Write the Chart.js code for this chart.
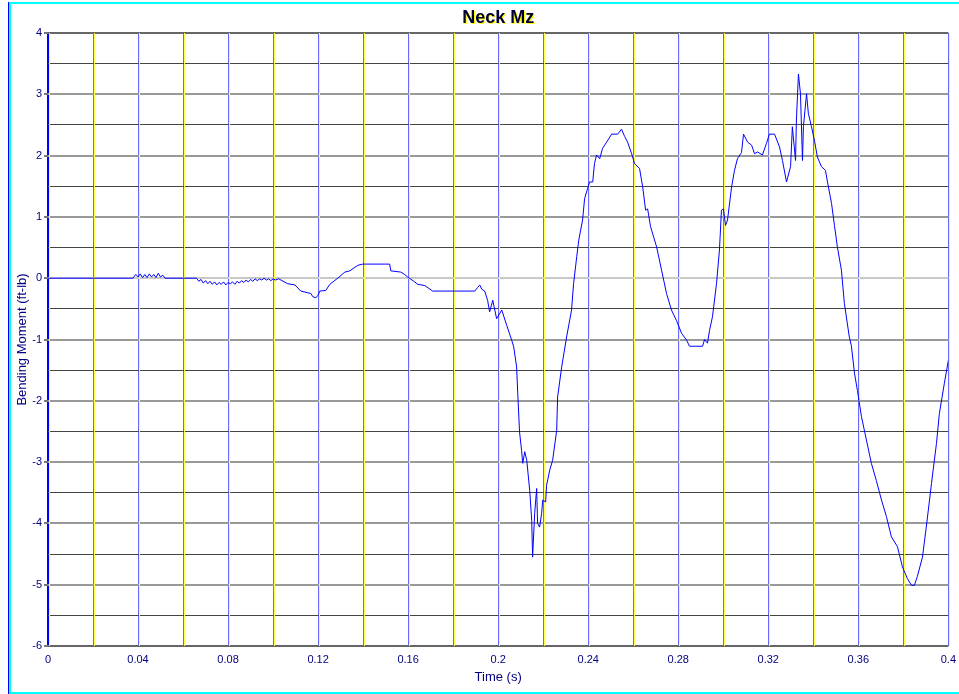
<!DOCTYPE html>
<html>
<head>
<meta charset="utf-8">
<title>Neck Mz</title>
<script src="https://cdn.jsdelivr.net/npm/chart.js@4/dist/chart.umd.min.js"></script>
<style>
  html, body { margin: 0; padding: 0; background: #fff; }
  #wrap { width: 959px; height: 694px; }
</style>
</head>
<body>
<div id="wrap"><canvas id="neckChart" width="959" height="694"></canvas></div>
<script>
// time axis (s) and bending moment (ft-lb)
const timeS = [
  0, 0.0377, 0.039, 0.040, 0.041, 0.042, 0.043, 0.044, 0.045, 0.046, 0.047, 0.048, 0.049, 0.050, 0.051, 0.052,
  0.066, 0.067, 0.068, 0.069, 0.070, 0.071, 0.072, 0.073, 0.074, 0.075, 0.076, 0.077, 0.078, 0.079, 0.080,
  0.081, 0.082, 0.083, 0.084, 0.085, 0.086, 0.087, 0.088, 0.089, 0.090, 0.091, 0.092, 0.093, 0.094, 0.095,
  0.096, 0.097, 0.098, 0.099, 0.100, 0.101, 0.1025, 0.1035,
  0.1065, 0.1097, 0.1123, 0.1168, 0.1176, 0.119, 0.1199, 0.1208, 0.1234, 0.1252, 0.1287, 0.1319, 0.1341,
  0.1376, 0.1398, 0.1518, 0.1523, 0.1567, 0.1585, 0.1598, 0.1629, 0.1643, 0.1674, 0.1709, 0.1896, 0.1909,
  0.1918, 0.1927, 0.194, 0.1953, 0.1962, 0.1976, 0.1993, 0.2016, 0.2038, 0.206, 0.2069, 0.2082, 0.2087,
  0.2095, 0.2104, 0.2109, 0.2118, 0.2127, 0.214, 0.2149, 0.2153, 0.2162, 0.2171, 0.2175, 0.2184, 0.2193,
  0.2198, 0.2211, 0.2215, 0.2229, 0.2242, 0.226, 0.2264, 0.2282, 0.2304, 0.2326, 0.2335, 0.2349, 0.2358,
  0.2375, 0.2384, 0.2397, 0.2406, 0.242, 0.2428, 0.2437, 0.2451, 0.2464, 0.2482, 0.2504, 0.2531, 0.2548,
  0.2562, 0.2575, 0.2593, 0.2606, 0.2628, 0.2642, 0.2655, 0.2664, 0.2677, 0.2704, 0.2726, 0.2748, 0.277,
  0.2792, 0.2815, 0.2837, 0.285, 0.2908, 0.2917, 0.293, 0.2939, 0.2952, 0.297, 0.2983, 0.2992, 0.3001,
  0.301, 0.3019, 0.3037, 0.305, 0.3063, 0.3081, 0.309, 0.3108, 0.3126, 0.3139, 0.3152, 0.3174, 0.3192,
  0.3205, 0.3228, 0.325, 0.3263, 0.3281, 0.3299, 0.3307, 0.3321, 0.3325, 0.3334, 0.3343, 0.3352, 0.3356,
  0.337, 0.3378, 0.3392, 0.3405, 0.3418, 0.3436, 0.3454, 0.3463, 0.3481, 0.3494, 0.3507, 0.3525, 0.3538,
  0.356, 0.3569, 0.3583, 0.3596, 0.3614, 0.3636, 0.3658, 0.368, 0.3703, 0.3725, 0.3747, 0.3774, 0.3796,
  0.3818, 0.3836, 0.3849, 0.3862, 0.3885, 0.3902, 0.3925, 0.3947, 0.396, 0.3982, 0.4
];

const momentFtLb = [
  0, 0, 0.06, 0.02, 0.07, 0.01, 0.06, 0.01, 0.07, 0.02, 0.06, 0.01, 0.08, 0.02, 0.05, 0,
  0, -0.05, -0.02, -0.08, -0.04, -0.09, -0.05, -0.10, -0.06, -0.11, -0.07, -0.10, -0.06, -0.11, -0.07,
  -0.09, -0.06, -0.10, -0.05, -0.08, -0.04, -0.07, -0.03, -0.06, -0.02, -0.05, -0.01, -0.04, -0.01, -0.03,
  0, -0.03, -0.01, -0.04, -0.01, -0.03, -0.01, -0.03,
  -0.09, -0.11, -0.21, -0.25, -0.30, -0.32, -0.28, -0.21, -0.20, -0.10, 0, 0.10, 0.12,
  0.21, 0.23, 0.23, 0.12, 0.10, 0.06, 0.02, -0.06, -0.10, -0.12, -0.21, -0.21, -0.15,
  -0.11, -0.18, -0.21, -0.36, -0.55, -0.36, -0.66, -0.52, -0.77, -1.01, -1.12, -1.45, -1.88,
  -2.51, -2.81, -3.02, -2.83, -2.97, -3.46, -3.95, -4.55, -3.84, -3.43, -4.00, -4.06, -3.84,
  -3.62, -3.65, -3.38, -3.13, -2.97, -2.48, -1.94, -1.45, -0.96, -0.52, -0.09, 0.35, 0.62,
  0.95, 1.30, 1.46, 1.57, 1.57, 1.87, 2.01, 1.95, 2.12, 2.22, 2.35, 2.35, 2.43,
  2.31, 2.22, 2.03, 1.87, 1.79, 1.49, 1.11, 1.13, 0.84, 0.51, 0.13, -0.25, -0.52,
  -0.69, -0.90, -1.01, -1.11, -1.11, -1.00, -1.06, -0.85, -0.63, -0.09, 0.46, 1.11, 1.13,
  0.86, 0.95, 1.49, 1.76, 1.95, 2.05, 2.35, 2.22, 2.17, 2.03, 2.06, 2.01, 2.20,
  2.35, 2.35, 2.14, 1.92, 1.57, 1.82, 2.47, 1.92, 2.58, 3.33, 3.01, 1.92, 2.47,
  3.01, 2.69, 2.47, 2.25, 1.98, 1.82, 1.76, 1.57, 1.22, 0.86, 0.51, 0.13, -0.41,
  -0.96, -1.10, -1.55, -1.83, -2.26, -2.64, -3.02, -3.30, -3.62, -3.89, -4.22, -4.38, -4.71,
  -4.90, -5.01, -5.01, -4.87, -4.55, -4.06, -3.35, -2.70, -2.21, -1.72, -1.34
];

// axis ranges and tick labels
const xRange = [0, 0.4];
const xLabels = ['0', '0.04', '0.08', '0.12', '0.16', '0.2', '0.24', '0.28', '0.32', '0.36', '0.4'];
const yRange = [-6, 4];
const yLabels = ['-6', '-5', '-4', '-3', '-2', '-1', '0', '1', '2', '3', '4'];

const points = timeS.map((t, i) => ({ x: t, y: momentFtLb[i] }));

// window frame + title drawn at the plot centre
const framePlugin = {
  id: 'frame',
  beforeDraw(chart) {
    const ctx = chart.ctx;
    ctx.save();
    ctx.fillStyle = '#ffffff';
    ctx.fillRect(0, 0, chart.width, chart.height);
    ctx.fillStyle = '#00ffff';
    ctx.fillRect(9, 2, chart.width - 9, 2);
    ctx.fillRect(9, chart.height - 2, chart.width - 9, 2);
    ctx.fillRect(9, 2, 2, chart.height - 2);
    ctx.fillStyle = '#0000ff';
    ctx.fillRect(8, 2, 1, chart.height - 2);
    ctx.restore();
  },
  afterDraw(chart) {
    const ctx = chart.ctx;
    const area = chart.chartArea;
    ctx.save();
    ctx.font = 'bold 18px "Liberation Sans", Arial, sans-serif';
    ctx.textAlign = 'center';
    ctx.textBaseline = 'middle';
    const cx = (area.left + area.right) / 2;
    ctx.fillStyle = '#ffff00';
    ctx.fillText('Neck Mz', cx + 1, 19);
    ctx.fillStyle = '#000033';
    ctx.fillText('Neck Mz', cx, 18);
    ctx.restore();
  }
};

// the thin yellow line just right of every vertical grid line
const yellowGridPlugin = {
  id: 'yellowGrid',
  beforeDatasetsDraw(chart) {
    const ctx = chart.ctx;
    const xs = chart.scales.x;
    const area = chart.chartArea;
    ctx.save();
    ctx.strokeStyle = '#ffff44';
    ctx.lineWidth = 1;
    xs.ticks.forEach((tk) => {
      const w = tk.value === 0 ? 2 : 1;
      const base = Math.round(xs.getPixelForValue(tk.value) - w / 2); // same rounding as the grid
      const px = base + w + 0.5;
      ctx.beginPath();
      ctx.moveTo(px, area.top);
      ctx.lineTo(px, area.bottom);
      ctx.stroke();
    });
    ctx.restore();
  }
};

const tickFont = { family: '"Liberation Sans", Arial, sans-serif', size: 11 };
const titleFont = { family: '"Liberation Sans", Arial, sans-serif', size: 13 };

new Chart(document.getElementById('neckChart'), {
  type: 'line',
  data: {
    datasets: [{
      label: 'Neck Mz',
      data: points,
      borderColor: '#0000ff',
      borderWidth: 1,
      pointRadius: 0,
      tension: 0,
      fill: false
    }]
  },
  options: {
    responsive: false,
    animation: false,
    layout: { padding: { left: 0, right: 10, top: 33, bottom: 0 } },
    plugins: {
      legend: { display: false },
      title: { display: false },
      tooltip: { enabled: false }
    },
    scales: {
      x: {
        type: 'linear',
        min: xRange[0],
        max: xRange[1],
        afterFit: (s) => { s.height = 48; },
        ticks: {
          stepSize: 0.02,
          autoSkip: false,
          maxRotation: 0,
          padding: 3,
          color: '#000080',
          font: tickFont,
          callback: (v) => {
            const n = Math.round(v * 100);
            if (n % 4 !== 0) return '';
            return xLabels[n / 4];
          }
        },
        grid: {
          color: (c) => (c.tick && c.tick.value === 0 ? '#0000ff' : '#6a6aff'),
          lineWidth: (c) => (c.tick && c.tick.value === 0 ? 2 : 1),
          tickLength: 4,
          tickColor: 'rgba(0,0,0,0)'
        },
        border: { display: false },
        title: {
          display: true,
          text: 'Time (s)',
          color: '#000080',
          font: titleFont,
          padding: { top: 0, bottom: 9 }
        }
      },
      y: {
        type: 'linear',
        min: yRange[0],
        max: yRange[1],
        afterFit: (s) => { s.width = 48; },
        ticks: {
          stepSize: 0.5,
          autoSkip: false,
          padding: 2,
          color: '#000080',
          font: tickFont,
          callback: (v) => {
            if (!Number.isInteger(v)) return '';
            return yLabels[v - yRange[0]];
          }
        },
        grid: {
          color: (c) => {
            const v = c.tick ? c.tick.value : 0;
            if (v === 4 || v === -6) return '#666666';
            if (v === 0) return '#c8c8c8';
            if (Number.isInteger(v)) return '#999999';
            return '#444444';
          },
          lineWidth: (c) => (c.tick && Number.isInteger(c.tick.value) ? 2 : 1),
          tickLength: 4,
          tickColor: (c) => (c.tick && Number.isInteger(c.tick.value) ? '#777777' : 'rgba(0,0,0,0)')
        },
        border: { display: false },
        title: {
          display: true,
          text: 'Bending Moment (ft-lb)',
          color: '#000080',
          font: titleFont,
          padding: { top: 15, bottom: 0 }
        }
      }
    }
  },
  plugins: [framePlugin, yellowGridPlugin]
});
</script>
</body>
</html>
